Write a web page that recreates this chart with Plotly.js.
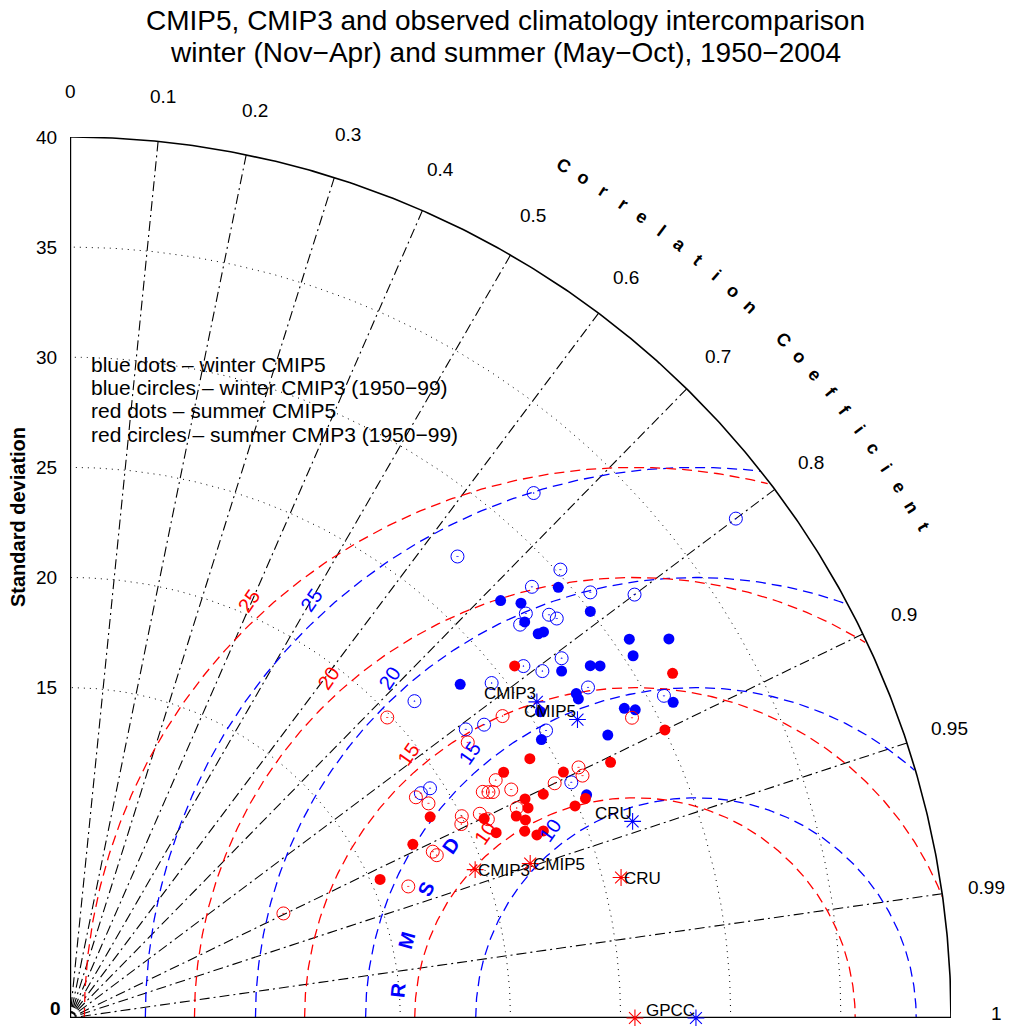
<!DOCTYPE html>
<html><head><meta charset="utf-8">
<script src="https://cdn.plot.ly/plotly-3.0.1.min.js"></script>
<style>html,body{margin:0;padding:0;background:#fff;}#chart{width:1010px;height:1026px;}</style>
</head><body><div id="chart"></div>
<script>
// ---------------- data ----------------
const refNames = ['GPCC', 'CRU', 'CMIP5', 'CMIP3'];
const winterRefStd  = [28.42, 27.06, 26.73, 25.60];
const winterRefCorr = [1.000, 0.944, 0.862, 0.828];
const summerRefStd  = [25.65, 25.82, 22.04, 19.59];
const summerRefCorr = [1.000, 0.969, 0.948, 0.939];
const winterRefLabelShown = [true, true, true, true];
const summerRefLabelShown = [false, true, true, true];

// blue dots - winter CMIP5
const winterCmip5Std  = [27.23, 27.82, 27.38, 29.56, 27.50, 27.74, 29.98, 30.67, 32.18, 30.40, 27.32, 28.53, 28.89, 23.31, 27.30, 27.25, 28.83, 29.23, 30.91, 25.49, 24.86, 27.59, 25.55];
const winterCmip5Corr = [0.718, 0.736, 0.754, 0.750, 0.773, 0.775, 0.788, 0.828, 0.845, 0.841, 0.817, 0.828, 0.833, 0.760, 0.842, 0.847, 0.873, 0.878, 0.886, 0.838, 0.861, 0.885, 0.918];
// blue circles - winter CMIP3 (1950-99)
const winterCmip3Std  = [31.80, 27.36, 37.79, 30.17, 28.69, 30.52, 32.04, 27.67, 27.14, 28.43, 28.59, 26.06, 26.61, 27.66, 24.45, 21.25, 27.90, 30.68, 22.24, 23.04, 25.25, 25.15, 19.39, 18.92];
const winterCmip3Corr = [0.662, 0.643, 0.800, 0.738, 0.731, 0.774, 0.800, 0.748, 0.753, 0.765, 0.773, 0.790, 0.806, 0.807, 0.783, 0.736, 0.843, 0.879, 0.808, 0.816, 0.856, 0.905, 0.843, 0.842];
// red dots - summer CMIP5
const summerCmip5Std  = [25.75, 31.52, 30.01, 27.15, 23.97, 22.63, 25.03, 23.77, 25.44, 24.87, 22.93, 22.88, 22.24, 22.55, 20.87, 21.10, 22.32, 22.77, 23.11, 18.73, 17.45, 15.42];
const summerCmip5Corr = [0.784, 0.868, 0.900, 0.904, 0.871, 0.870, 0.895, 0.904, 0.920, 0.922, 0.901, 0.909, 0.911, 0.917, 0.901, 0.917, 0.925, 0.931, 0.930, 0.873, 0.892, 0.913];
// red circles - summer CMIP3 (1950-99)
const summerCmip3Std  = [19.84, 10.79, 16.48, 18.12, 18.22, 18.63, 18.97, 20.01, 19.83, 21.97, 23.95, 28.93, 25.74, 25.74, 24.45, 22.14, 22.56, 21.37, 21.59, 21.77, 22.41, 20.79, 21.01];
const summerCmip3Corr = [0.726, 0.898, 0.932, 0.909, 0.914, 0.843, 0.858, 0.889, 0.896, 0.822, 0.820, 0.882, 0.897, 0.904, 0.900, 0.873, 0.888, 0.877, 0.880, 0.882, 0.905, 0.895, 0.903];

// axes / grid definitions
const corrLines  = [0.1, 0.2, 0.3, 0.4, 0.5, 0.6, 0.7, 0.8, 0.9, 0.95, 0.99];
const corrLabels = ['0', '0.1', '0.2', '0.3', '0.4', '0.5', '0.6', '0.7', '0.8', '0.9', '0.95', '0.99', '1'];
const corrLabelVals = [0, 0.1, 0.2, 0.3, 0.4, 0.5, 0.6, 0.7, 0.8, 0.9, 0.95, 0.99, 1];
const stdTickVals = [15, 20, 25, 30, 35, 40];
const stdArcs = [15, 20, 25, 30, 35];
const stdMax = 40;
const rmsLevels = [10, 15, 20, 25];
const rmsLabelAngleSummer = [129, 130.6, 132, 132.8];
const rmsLabelAngleWinter = [128, 130.5, 132, 132.6];
const rmsTitle = ['R', 'M', 'S', 'D'];
const rmsTitleAngles = [174.6, 164.9, 154.4, 145];
const corrTitle = 'Correlation Coefficient';
const legendLines = ['blue dots – winter CMIP5', 'blue circles – winter CMIP3 (1950−99)', 'red dots – summer CMIP5', 'red circles – summer CMIP3 (1950−99)'];
const titleLines = ['CMIP5, CMIP3 and observed climatology intercomparison', 'winter (Nov−Apr) and summer (May−Oct), 1950−2004'];

// ---------------- helpers ----------------
const FONT = 'Liberation Sans, Arial, Helvetica, sans-serif';
const BLUE = 'rgb(0,0,255)', RED = 'rgb(255,0,0)';
const deg = Math.PI / 180;
function px(s, c) { return s.map((v, i) => v * c[i]); }
function py(s, c) { return s.map((v, i) => v * Math.sqrt(Math.max(0, 1 - c[i] * c[i]))); }

function arcPts(cx, r, a0, a1, n, clip) {
  const xs = [], ys = [];
  for (let k = 0; k <= n; k++) {
    const a = (a0 + (a1 - a0) * k / n) * deg;
    const x = cx + r * Math.cos(a), y = r * Math.sin(a);
    if (clip && (Math.hypot(x, y) > stdMax + 1e-9 || x < 0)) { xs.push(null); ys.push(null); }
    else { xs.push(x); ys.push(y); }
  }
  return [xs, ys];
}

const traces = [];
// std dotted arcs
{
  let xs = [], ys = [];
  stdArcs.forEach(r => { const [a, b] = arcPts(0, r, 0, 90, 180, false); xs = xs.concat(a, [null]); ys = ys.concat(b, [null]); });
  traces.push({x: xs, y: ys, mode: 'lines', line: {color: 'black', width: 1, dash: '1px,5px'}, hoverinfo: 'skip', connectgaps: false});
}
// correlation dash-dot lines
{
  let xs = [], ys = [];
  corrLines.forEach(c => { const s = Math.sqrt(1 - c * c); xs.push(stdMax * c, 0, null); ys.push(stdMax * s, 0, null); });
  traces.push({x: xs, y: ys, mode: 'lines', line: {color: 'black', width: 1.1, dash: '10px,4px,2px,4px'}, hoverinfo: 'skip', connectgaps: false});
}
// RMS arcs
function rmsTrace(ref, color) {
  let xs = [], ys = [];
  rmsLevels.forEach(r => { const [a, b] = arcPts(ref, r, 180, 0, 400, true); xs = xs.concat(a, [null]); ys = ys.concat(b, [null]); });
  return {x: xs, y: ys, mode: 'lines', line: {color: color, width: 1.3, dash: '10px,6px'}, hoverinfo: 'skip', connectgaps: false};
}
traces.push(rmsTrace(winterRefStd[0], BLUE));
traces.push(rmsTrace(summerRefStd[0], RED));
// frame: outer arc + axes
{
  const [a, b] = arcPts(0, stdMax, 0, 90, 360, false);
  traces.push({x: a, y: b, mode: 'lines', line: {color: 'black', width: 1.6}, hoverinfo: 'skip'});
  traces.push({x: [0, 0, null, 0, stdMax], y: [stdMax, 0, null, 0, 0], mode: 'lines', line: {color: 'black', width: 2.4}, hoverinfo: 'skip', connectgaps: false, cliponaxis: false});
}
// model markers
traces.push({x: px(winterCmip3Std, winterCmip3Corr), y: py(winterCmip3Std, winterCmip3Corr), mode: 'markers', cliponaxis: false,
  marker: {symbol: 'circle-open-dot', size: 13, color: BLUE, line: {width: 1, color: BLUE}}});
traces.push({x: px(winterCmip5Std, winterCmip5Corr), y: py(winterCmip5Std, winterCmip5Corr), mode: 'markers', cliponaxis: false,
  marker: {symbol: 'circle', size: 11, color: BLUE, line: {width: 0}}});
traces.push({x: px(summerCmip3Std, summerCmip3Corr), y: py(summerCmip3Std, summerCmip3Corr), mode: 'markers', cliponaxis: false,
  marker: {symbol: 'circle-open-dot', size: 13, color: RED, line: {width: 1, color: RED}}});
traces.push({x: px(summerCmip5Std, summerCmip5Corr), y: py(summerCmip5Std, summerCmip5Corr), mode: 'markers', cliponaxis: false,
  marker: {symbol: 'circle', size: 11, color: RED, line: {width: 0}}});
// reference stars
traces.push({x: px(summerRefStd, summerRefCorr), y: py(summerRefStd, summerRefCorr), mode: 'markers', cliponaxis: false,
  marker: {symbol: 'asterisk-open', size: 14, color: RED, line: {width: 1.1, color: RED}}});
traces.push({x: px(winterRefStd, winterRefCorr), y: py(winterRefStd, winterRefCorr), mode: 'markers', cliponaxis: false,
  marker: {symbol: 'asterisk-open', size: 14, color: BLUE, line: {width: 1.1, color: BLUE}}});

// ---------------- annotations (paper coords derived from data units) ----------------
const ann = [];
function T(x, y, text, opts) {
  ann.push(Object.assign({x: x / stdMax, y: y / stdMax, xref: 'paper', yref: 'paper', text: text, showarrow: false,
    font: {family: FONT, size: 16, color: 'black'}, xanchor: 'center', yanchor: 'middle'}, opts || {}));
}
const U = 22.025; // px per unit
// title
T(19.79, (1018 - 21) / U, titleLines[0], {font: {family: FONT, size: 28, color: 'black'}});
T(19.79, (1018 - 53) / U, titleLines[1], {font: {family: FONT, size: 28, color: 'black'}});
// y axis title
T(-52 / U, (1018 - 517) / U, '<b>Standard deviation</b>', {textangle: -90, font: {family: FONT, size: 20, color: 'black'}});
// std tick labels
stdTickVals.forEach(v => T(-0.5, v, String(v), {xanchor: 'right', font: {family: FONT, size: 19, color: 'black'}}));
T(-0.3, 0, '<b>0</b>', {xanchor: 'right', yshift: 10, font: {family: FONT, size: 19, color: 'black'}});
// correlation labels
corrLabelVals.forEach((c, i) => {
  const r = 42.05;
  const extra = (c === 1) ? {yshift: 5} : {};
  T(r * c, r * Math.sqrt(1 - c * c), corrLabels[i], Object.assign({font: {family: FONT, size: 19, color: 'black'}}, extra));
});
// curved "Correlation Coefficient"
{
  const r = 44.7, a0 = 59.9, step = 30 / (corrTitle.length - 1);
  for (let i = 0; i < corrTitle.length; i++) {
    const ch = corrTitle[i];
    if (ch === ' ') continue;
    const a = a0 - i * step;
    T(r * Math.cos(a * deg), r * Math.sin(a * deg), '<b>' + ch + '</b>', {textangle: 90 - a, font: {family: FONT, size: 18, color: 'black'}});
  }
}
// legend text
legendLines.forEach((t, i) => T(19 / U, (1018 - (364 + i * 23.5)) / U, t, {xanchor: 'left', font: {family: FONT, size: 21, color: 'black'}}));
// RMS labels
rmsLevels.forEach((r, i) => {
  const rr = r + 0.8;
  let a = rmsLabelAngleSummer[i] * deg;
  T(summerRefStd[0] + rr * Math.cos(a), rr * Math.sin(a), String(r), {textangle: -55, font: {family: FONT, size: 20, color: RED}});
  a = rmsLabelAngleWinter[i] * deg;
  T(winterRefStd[0] + rr * Math.cos(a), rr * Math.sin(a), String(r), {textangle: -55, font: {family: FONT, size: 20, color: BLUE}});
});
// RMSD title
rmsTitle.forEach((ch, i) => {
  const a = rmsTitleAngles[i], r = 13.6;
  T(winterRefStd[0] + r * Math.cos(a * deg), r * Math.sin(a * deg), '<b>' + ch + '</b>', {textangle: -(a - 90), font: {family: FONT, size: 20, color: BLUE}});
});
// reference labels
{
  const sx = px(summerRefStd, summerRefCorr), sy = py(summerRefStd, summerRefCorr);
  refNames.forEach((n, i) => { if (summerRefLabelShown[i]) T(sx[i], sy[i], n, {xanchor: 'left', xshift: 1, yshift: -1, font: {family: FONT, size: 17, color: 'black'}}); });
  const wx = px(winterRefStd, winterRefCorr), wy = py(winterRefStd, winterRefCorr);
  refNames.forEach((n, i) => { if (winterRefLabelShown[i]) T(wx[i], wy[i], n, {xanchor: 'right', xshift: 1, yshift: 8, font: {family: FONT, size: 17, color: 'black'}}); });
}

const layout = {
  width: 1010, height: 1026,
  margin: {l: 70, r: 59, t: 137, b: 8, pad: 0},
  paper_bgcolor: 'white', plot_bgcolor: 'white',
  showlegend: false,
  xaxis: {range: [0, 40], visible: false, fixedrange: true},
  yaxis: {range: [0, 40], visible: false, fixedrange: true},
  annotations: ann
};
Plotly.newPlot('chart', traces, layout, {staticPlot: true, displayModeBar: false});
</script>
</body></html>
